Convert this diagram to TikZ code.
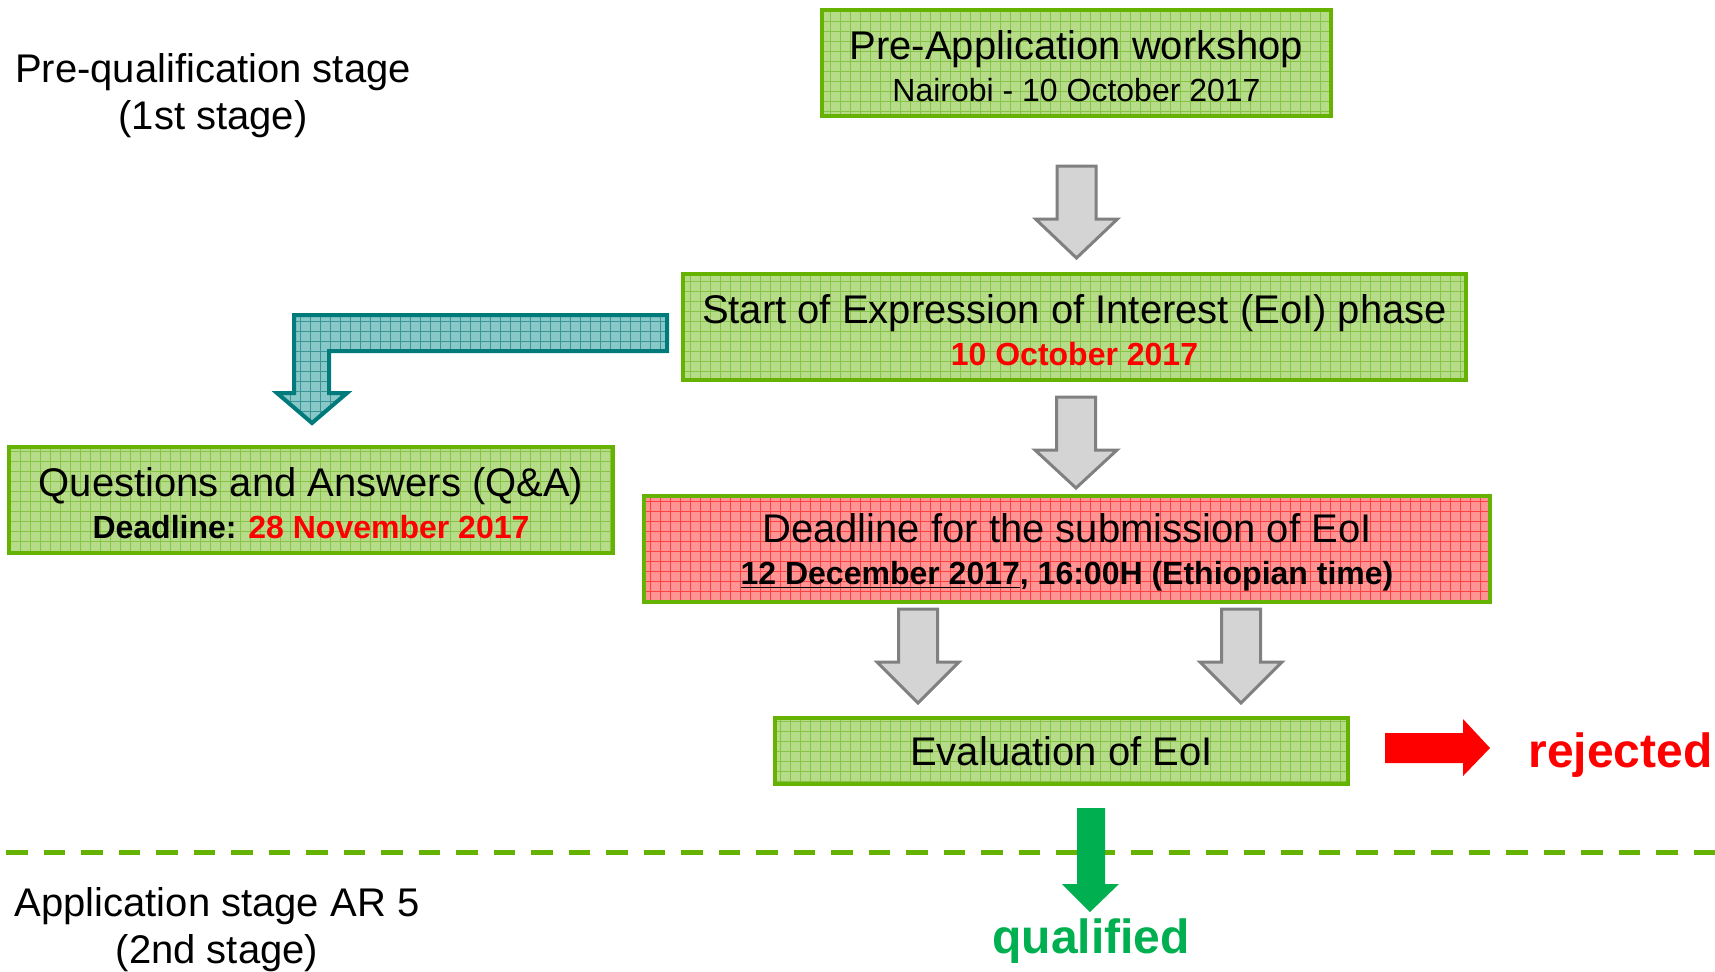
\documentclass[tikz,border=0pt]{standalone}
\usepackage{fontspec}
\setmainfont{Liberation Sans}
\usepackage{xcolor}
\usetikzlibrary{patterns.meta}

\definecolor{boxfill}{HTML}{B6DC8A}
\definecolor{boxgrid}{HTML}{86C446}
\definecolor{boxline}{HTML}{66B200}
\definecolor{redfill}{HTML}{FF9494}
\definecolor{redgrid}{HTML}{FF4040}
\definecolor{tealfill}{HTML}{88C8C8}
\definecolor{tealgrid}{HTML}{3A9494}
\definecolor{tealline}{HTML}{007A7A}
\definecolor{arrowfill}{HTML}{D4D4D4}
\definecolor{arrowline}{HTML}{808080}
\definecolor{datered}{HTML}{FF0000}
\definecolor{okgreen}{HTML}{00B050}

\begin{document}
\begin{tikzpicture}[x=0.5pt, y=-0.5pt,
		stagebox/.style={draw=boxline, line width=2pt, inner sep=0pt, align=center, font=\fontsize{20}{21}\selectfont},
		greengrid/.style={preaction={fill=boxfill}, preaction={pattern={Hatch[distance=5pt,angle=0,line width=0.45pt]}, pattern color=boxgrid}},
		redgrid/.style={preaction={fill=redfill}, preaction={pattern={Hatch[distance=5pt,angle=0,line width=0.45pt]}, pattern color=redgrid}},
		grayarrow/.style={draw=arrowline, fill=arrowfill, line width=1.5pt},
		tealarrow/.style={draw=tealline, line width=2pt, preaction={fill=tealfill}, preaction={pattern={Hatch[distance=5pt,angle=0,line width=0.45pt]}, pattern color=tealgrid}},
		stagetext/.style={align=center, font=\fontsize{20}{23.5}\selectfont}]
			\useasboundingbox (0,0) rectangle (1715,971);

			% stage labels
			\node[stagetext] (prequal) at (213,96) {Pre-qualification stage\\(1st stage)};
			\node[stagetext] (appstage) at (217,930) {Application stage AR 5\\(2nd stage)};

			% boxes
			\node[stagebox, greengrid, minimum width=254.5pt, minimum height=53pt] (workshop) at (1076.5,63)
				{\rule{0pt}{17.5pt}Pre-Application workshop\\{\fontsize{16}{21}\selectfont Nairobi - 10 October 2017}};
			\node[stagebox, greengrid, minimum width=391.5pt, minimum height=53pt] (eoi) at (1074.5,327)
				{\rule{0pt}{17.5pt}Start of Expression of Interest (EoI) phase\\{\fontsize{16}{21}\selectfont\bfseries\color{datered}10 October 2017}};
			\node[stagebox, greengrid, minimum width=302pt, minimum height=53pt] (qa) at (311,500)
				{\rule{0pt}{17.5pt}Questions and Answers (Q\&A)\\{\fontsize{16}{21}\selectfont\bfseries Deadline: \textcolor{datered}{28 November 2017}}};
			\node[stagebox, redgrid, minimum width=423pt, minimum height=53pt] (deadline) at (1067,549)
				{\rule{0pt}{17.5pt}Deadline for the submission of EoI\\{\fontsize{16}{21}\selectfont\bfseries\underline{12 December 2017}, 16:00H (Ethiopian time)}};
			\node[stagebox, greengrid, minimum width=286.5pt, minimum height=33pt] (eval) at (1061.5,751) {Evaluation of EoI};

			% block arrows
			\draw[grayarrow] ([yshift=-24pt]workshop.south) ++(-19.5,0) -- ++(39,0) -- ++(0,53) -- ++(21.5,0) -- ++(-41,39) -- ++(-41,-39) -- ++(21.5,0) -- cycle;
			\draw[grayarrow] ([xshift=0.75pt,yshift=-7.5pt]eoi.south) ++(-19.5,0) -- ++(39,0) -- ++(0,53) -- ++(21.5,0) -- ++(-41,38) -- ++(-41,-38) -- ++(21.5,0) -- cycle;
			\draw[grayarrow] ([xshift=-74.5pt,yshift=-2.5pt]deadline.south) ++(-19.5,0) -- ++(39,0) -- ++(0,53) -- ++(21.5,0) -- ++(-41,41) -- ++(-41,-41) -- ++(21.5,0) -- cycle;
			\draw[grayarrow] ([xshift=87pt,yshift=-2.5pt]deadline.south) ++(-19.5,0) -- ++(39,0) -- ++(0,53) -- ++(21.5,0) -- ++(-41,41) -- ++(-41,-41) -- ++(21.5,0) -- cycle;
			\draw[tealarrow] ([xshift=-7pt,yshift=6pt]eoi.west) -- ++(-373,0) -- ++(0,78) -- ++(-17,0) -- ++(35,30) -- ++(35,-30) -- ++(-18,0) -- ++(0,-42) -- ++(338,0) -- cycle;

			% stage border
			\draw[boxline, line width=2.5pt, dash pattern=on 10.75pt off 8pt, dash phase=15.75pt] (0,852) -- (1715,852);

			% outcome
			\fill[datered] ([xshift=17.5pt,yshift=9pt]eval.east) -- ++(78,0) -- ++(0,-14) -- ++(27,29) -- ++(-27,28) -- ++(0,-13) -- ++(-78,0) -- cycle;
			\fill[okgreen] ([xshift=7.75pt,yshift=-11pt]eval.south) -- ++(28,0) -- ++(0,76) -- ++(14,0) -- ++(-29,28) -- ++(-28,-28) -- ++(15,0) -- cycle;
			\node[anchor=base west, inner sep=0pt, font=\fontsize{24}{28}\selectfont\bfseries, text=datered] (rejected) at (1528,767) {rejected};
			\node[anchor=base west, inner sep=0pt, font=\fontsize{24}{28}\selectfont\bfseries, text=okgreen] (qualified) at (992,953) {qualified};
		\end{tikzpicture}
\end{document}
